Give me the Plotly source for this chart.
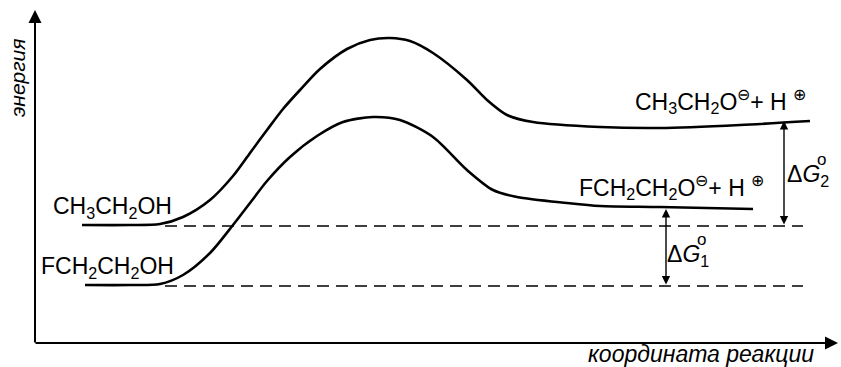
import plotly.graph_objects as go

# Reaction coordinate (arbitrary units) and energy (arbitrary units)
x_ethanol = [47, 95, 125, 148, 175, 198, 215, 232, 248, 265, 285, 312, 335, 355, 375, 398,
             432, 452, 472, 498, 565, 625, 705, 775]
e_ethanol = [118, 118, 119, 126, 143, 167, 190, 213, 234, 253, 274, 294, 303, 305, 302, 290,
             263, 243, 228, 221, 216, 215, 218, 222]

x_fluoro = [50, 95, 125, 148, 175, 198, 215, 232, 255, 282, 308, 338, 365, 398, 432, 458,
            482, 532, 565, 625, 718]
e_fluoro = [58, 58, 59, 68, 90, 118, 140, 162, 186, 207, 221, 226, 223, 206, 173, 153,
            146, 140, 137, 136, 134]

# reference (dashed) levels
level_ethanol = 117
level_fluoro = 57
dash_x = [130, 768]

# product levels used for the ΔG arrows
prod_ethanol = 222
prod_fluoro = 134
dG2_x = 749
dG1_x = 631

labels = {
    "ylab": "энергия",
    "xlab": "координата реакции",
    "r1": "CH<sub>3</sub>CH<sub>2</sub>OH",
    "r2": "FCH<sub>2</sub>CH<sub>2</sub>OH",
    "p1": "CH<sub>3</sub>CH<sub>2</sub>O<sup>⊖</sup>+ H <sup>⊕</sup>",
    "p2": "FCH<sub>2</sub>CH<sub>2</sub>O<sup>⊖</sup>+ H <sup>⊕</sup>",
}

FONT = "Liberation Sans, Arial, sans-serif"

fig = go.Figure()

fig.add_trace(go.Scatter(x=x_ethanol, y=e_ethanol, mode="lines",
                         line=dict(color="black", width=2.6, shape="spline", smoothing=0.8),
                         hoverinfo="skip", showlegend=False))
fig.add_trace(go.Scatter(x=x_fluoro, y=e_fluoro, mode="lines",
                         line=dict(color="black", width=2.6, shape="spline", smoothing=0.8),
                         hoverinfo="skip", showlegend=False))

for lvl in (level_ethanol, level_fluoro):
    fig.add_trace(go.Scatter(x=dash_x, y=[lvl, lvl], mode="lines",
                             line=dict(color="black", width=1.6, dash="12px,7px"),
                             hoverinfo="skip", showlegend=False))

ann = []
# axes with arrows
ann.append(dict(x=0, y=333, ax=0, ay=-1, xref="x", yref="y", axref="x", ayref="y",
                showarrow=True, arrowhead=2, arrowsize=1.3, arrowwidth=2, arrowcolor="black",
                text="", standoff=0, startstandoff=0))
ann.append(dict(x=803, y=0, ax=-1, ay=0, xref="x", yref="y", axref="x", ayref="y",
                showarrow=True, arrowhead=2, arrowsize=1.3, arrowwidth=2, arrowcolor="black",
                text="", standoff=0, startstandoff=0))
# ΔG arrows
for xx, top, bot in ((dG2_x, prod_ethanol, level_ethanol), (dG1_x, prod_fluoro, level_fluoro)):
    ann.append(dict(x=xx, y=top, ax=xx, ay=bot, xref="x", yref="y", axref="x", ayref="y",
                    showarrow=True, arrowhead=2, arrowsize=1.2, arrowwidth=1.4, arrowcolor="black",
                    arrowside="end+start", text="", standoff=0, startstandoff=0))

def txt(x, y, t, size=23, italic=False, angle=0, xanchor="center", yanchor="middle"):
    if italic:
        t = "<i>" + t + "</i>"
    ann.append(dict(x=x, y=y, xref="x", yref="y", text=t, showarrow=False,
                    font=dict(family=FONT, size=size, color="black"),
                    textangle=angle, xanchor=xanchor, yanchor=yanchor))

txt(-18, 265, labels["ylab"], size=21, italic=True, angle=-90)
txt(666, -11, labels["xlab"], size=23, italic=True)
txt(77, 136, labels["r1"])
txt(72, 76, labels["r2"])
txt(685, 242, labels["p1"])
txt(636, 156, labels["p2"])
txt(773, 168, "Δ<i>G</i><sub>2</sub>")
txt(786, 184, "o", size=17)
txt(653, 88, "Δ<i>G</i><sub>1</sub>")
txt(666, 104, "o", size=17)

fig.update_layout(
    width=841, height=367,
    margin=dict(l=0, r=0, t=0, b=0),
    paper_bgcolor="white", plot_bgcolor="white",
    xaxis=dict(range=[-35, 806], visible=False, fixedrange=True),
    yaxis=dict(range=[-24, 343], visible=False, fixedrange=True),
    annotations=ann,
    showlegend=False,
)

fig.write_html("out.html", config={"displayModeBar": False},
               post_script="document.body.style.margin='0';document.body.style.overflow='hidden';")
